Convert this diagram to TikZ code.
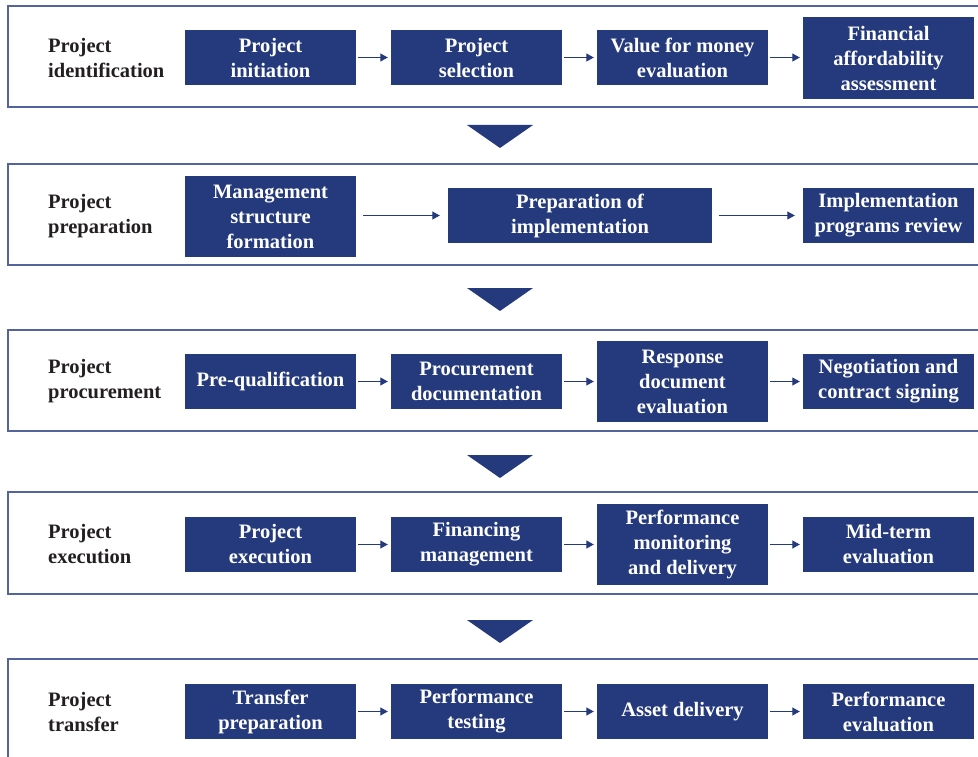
\documentclass[tikz,border=0pt]{standalone}
\usepackage{fontspec}
\setmainfont{Liberation Serif}
\usetikzlibrary{arrows.meta}
\definecolor{navy}{HTML}{253A7C}
\definecolor{panelline}{HTML}{52639E}
\definecolor{labeltext}{HTML}{231F20}
\begin{document}
\begin{tikzpicture}[x=1pt,y=-1pt,
  box/.style={fill=navy, text=white, font=\bfseries\fontsize{20.5}{25}\selectfont, align=center, inner sep=0pt, minimum width=171pt},
  lowbox/.style={box, minimum height=55pt},
  tallbox/.style={box, minimum height=82pt},
  stage/.style={anchor=west, align=left, text=labeltext, font=\bfseries\fontsize{20.5}{25}\selectfont, inner sep=0pt},
  panel/.style={draw=panelline, line width=1.2pt},
  flow/.style={draw=navy, line width=1.2pt, -{Triangle[length=7.5pt,width=8pt]}, shorten <=2pt, shorten >=3pt},
  longflow/.style={flow, shorten <=7pt, shorten >=8pt},
  down/.style={fill=navy}
]
\useasboundingbox (0,0) rectangle (978,757);

% panels
\draw[panel] (8,6) rectangle (995,107);
\draw[panel] (8,164) rectangle (995,265);
\draw[panel] (8,330) rectangle (995,431);
\draw[panel] (8,492) rectangle (995,594);
\draw[panel] (8,659) rectangle (995,780);

% down triangles
\fill[down] (467,125) -- (533,125) -- (500,148) -- cycle;
\fill[down] (467,288) -- (533,288) -- (500,311) -- cycle;
\fill[down] (467,455) -- (533,455) -- (500,478) -- cycle;
\fill[down] (467,620) -- (533,620) -- (500,643) -- cycle;

% row 1
\node[stage] (s1) at (48,57.5) {Project\\identification};
\node[lowbox] (a1) at (270.5,57.5) {Project\\initiation};
\node[lowbox] (a2) at (476.5,57.5) {Project\\selection};
\node[lowbox] (a3) at (682.5,57.5) {Value for money\\evaluation};
\node[tallbox] (a4) at (888.5,58) {Financial\\affordability\\assessment};
\draw[flow] (a1) -- (a2);
\draw[flow] (a2) -- (a3);
\draw[flow] (a3.east) -- (a3.east -| a4.west);

% row 2
\node[stage] (s2) at (48,216) {Project\\preparation};
\node[box, minimum height=81pt] (b1) at (270.5,216.5) {Management\\structure\\formation};
\node[lowbox, minimum width=264pt] (b2) at (580,215.5) {Preparation of\\implementation};
\node[lowbox] (b3) at (888.5,215.5) {Implementation\\programs review};
\draw[longflow] (b1.east |- b2.west) -- (b2.west);
\draw[longflow] (b2) -- (b3);

% row 3
\node[stage] (s3) at (48,381.5) {Project\\procurement};
\node[lowbox] (c1) at (270.5,381.5) {Pre-qualification};
\node[lowbox] (c2) at (476.5,381.5) {Procurement\\documentation};
\node[box, minimum height=81pt] (c3) at (682.5,381.5) {Response\\document\\evaluation};
\node[lowbox] (c4) at (888.5,381.5) {Negotiation and\\contract signing};
\draw[flow] (c1) -- (c2);
\draw[flow] (c2) -- (c3);
\draw[flow] (c3) -- (c4);

% row 4
\node[stage] (s4) at (48,544.5) {Project\\execution};
\node[lowbox] (d1) at (270.5,544.5) {Project\\execution};
\node[lowbox] (d2) at (476.5,544.5) {Financing\\management};
\node[box, minimum height=81pt] (d3) at (682.5,544.5) {Performance\\monitoring\\and delivery};
\node[lowbox] (d4) at (888.5,544.5) {Mid-term\\evaluation};
\draw[flow] (d1) -- (d2);
\draw[flow] (d2) -- (d3);
\draw[flow] (d3) -- (d4);

% row 5
\node[stage] (s5) at (48,711.5) {Project\\transfer};
\node[lowbox] (e1) at (270.5,711.5) {Transfer\\preparation};
\node[lowbox] (e2) at (476.5,711.5) {Performance\\testing};
\node[lowbox] (e3) at (682.5,711.5) {Asset delivery};
\node[lowbox] (e4) at (888.5,711.5) {Performance\\evaluation};
\draw[flow] (e1) -- (e2);
\draw[flow] (e2) -- (e3);
\draw[flow] (e3) -- (e4);
\end{tikzpicture}
\end{document}
